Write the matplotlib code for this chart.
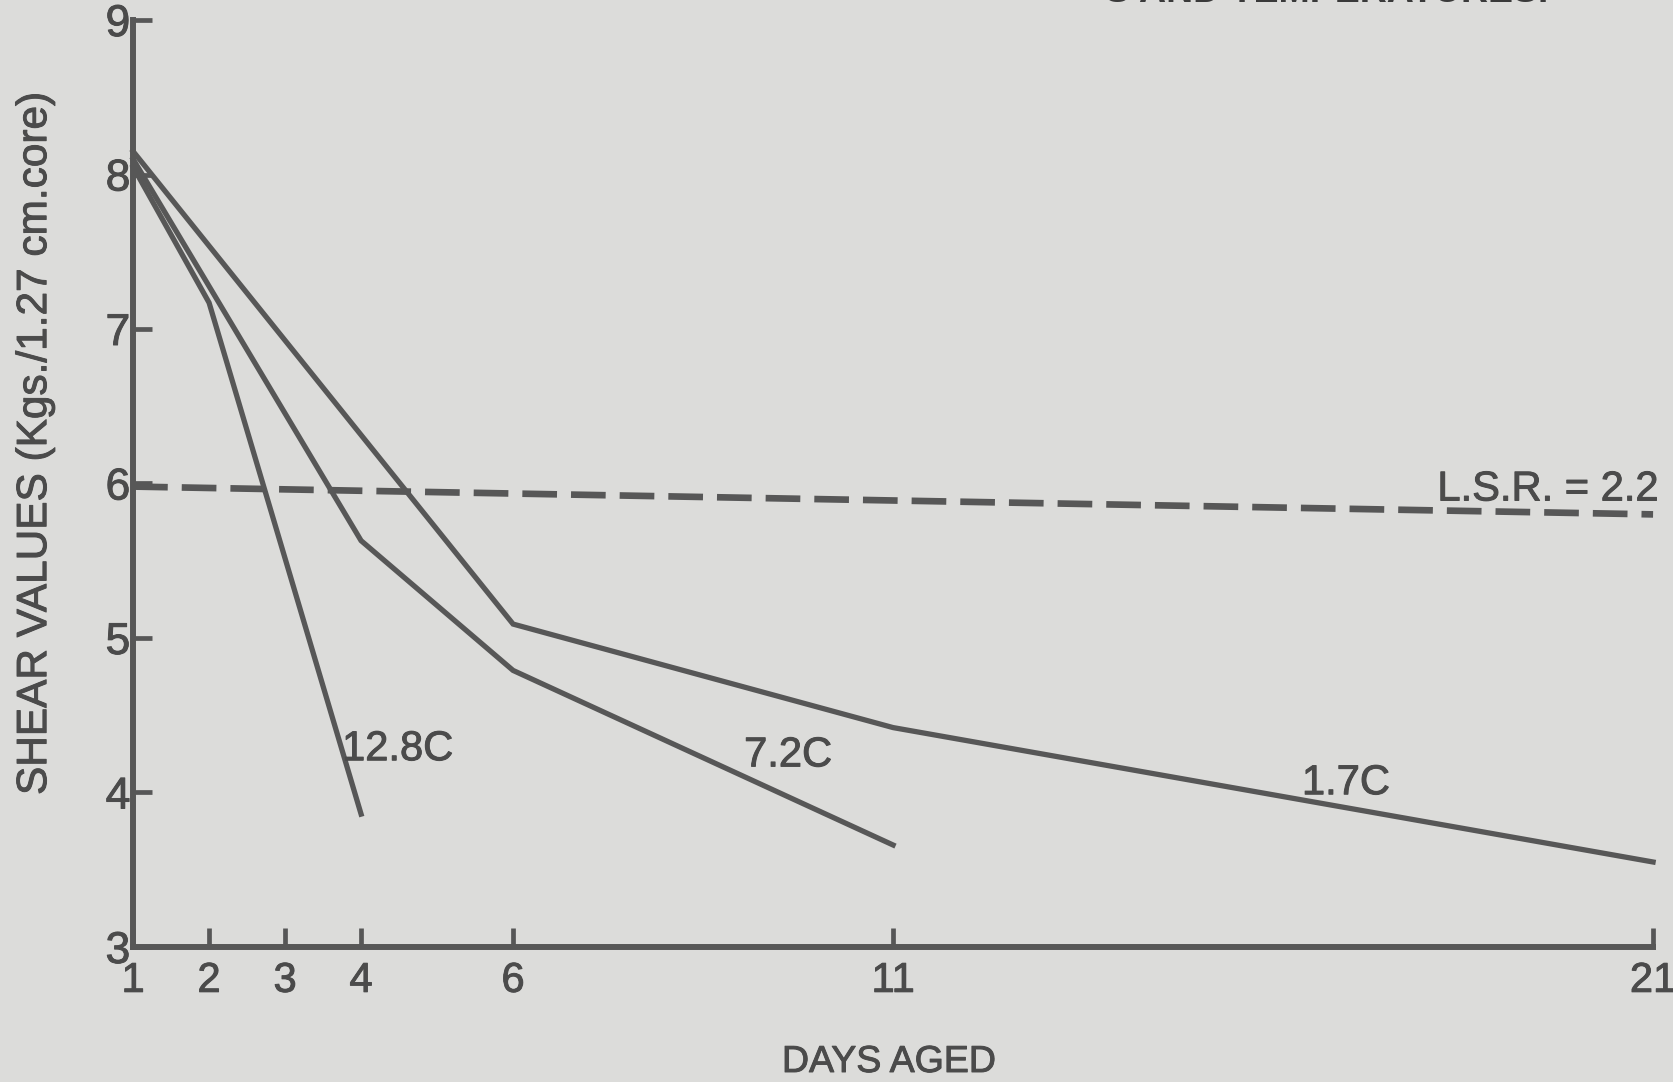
"""
Shear values of cores aged at three storage temperatures
"""
import matplotlib.pyplot as plt
import matplotlib.patheffects as pe

plt.rcParams['font.family'] = ['Liberation Sans', 'DejaVu Sans']

# days aged / shear values for each storage temperature
days_128 = [1, 2, 4]
shear_128 = [8.05, 7.17, 3.86]
days_72 = [1, 4, 6, 11]
shear_72 = [8.1, 5.63, 4.79, 3.66]
days_17 = [1, 6, 11, 21]
shear_17 = [8.15, 5.09, 4.42, 3.55]

# least significant range reference line
lsr_days = [1, 21]
lsr_shear = [5.98, 5.80]
lsr_text = 'L.S.R. = 2.2'

x_ticks = [1, 2, 3, 4, 6, 11, 21]
y_ticks = [3, 4, 5, 6, 7, 8, 9]

bg = '#dcdcda'
ink = '#575757'
txt = '#4b4b4b'
# printed type is a little heavier than the regular face
heavy = [pe.withStroke(linewidth=0.7, foreground=txt)]

fig = plt.figure(figsize=(16.74, 10.82), dpi=100, facecolor=bg)
ax = fig.add_axes([0.0795, 0.1248, 0.908, 0.8567])
ax.set_facecolor(bg)

ax.plot(days_128, shear_128, color=ink, lw=3.8, solid_joinstyle='miter', clip_on=False)
ax.plot(days_72, shear_72, color=ink, lw=3.8, solid_joinstyle='miter', clip_on=False)
ax.plot(days_17, shear_17, color=ink, lw=3.8, solid_joinstyle='miter', clip_on=False)
ax.plot(lsr_days, lsr_shear, color=ink, lw=4.8, dashes=(5.2, 2.1), clip_on=False)

ax.text(3.75, 4.28, '12.8C', fontsize=30, color=txt, va='center', ha='left', path_effects=heavy)
ax.text(9.04, 4.24, '7.2C', fontsize=30, color=txt, va='center', ha='left', path_effects=heavy)
ax.text(16.38, 4.06, '1.7C', fontsize=30, color=txt, va='center', ha='left', path_effects=heavy)
ax.text(21.07, 5.89, lsr_text, fontsize=30, color=txt, va='baseline', ha='right',
        path_effects=heavy)

ax.set_xlim(1, 21)
ax.set_ylim(3, 9)
ax.set_xticks(x_ticks)
ax.set_xticklabels([str(d) for d in x_ticks])
ax.set_yticks(y_ticks)
ax.set_yticklabels([str(v) for v in y_ticks])
ax.tick_params(axis='x', direction='in', length=14, width=3.4, color=ink,
               labelsize=30, labelcolor=txt, pad=10)
ax.tick_params(axis='y', direction='in', length=14, width=3.4, color=ink,
               labelsize=32, labelcolor=txt, pad=2)
for lab in ax.get_xticklabels() + ax.get_yticklabels():
    lab.set_path_effects(heavy)

for side in ['top', 'right']:
    ax.spines[side].set_visible(False)
for side in ['left', 'bottom']:
    ax.spines[side].set_color(ink)
    ax.spines[side].set_linewidth(4.3)
    ax.spines[side].set_capstyle('projecting')

fig.text(0.531, 0.0185, 'DAYS AGED', fontsize=27, color=txt, ha='center', va='center',
         path_effects=heavy)
fig.text(0.021, 0.59, 'SHEAR VALUES (Kgs./1.27 cm.core)', fontsize=30.5, color=txt,
         rotation=90, ha='center', va='center', path_effects=heavy)

# figure title, mostly running off the top edge of the page
fig.text(0.925, 0.9985, 'S AND TEMPERATURES.', fontsize=27, fontweight='bold',
         color='#3a3a3a', ha='right', va='baseline')

fig.savefig('out.png', dpi=100, facecolor=bg)
